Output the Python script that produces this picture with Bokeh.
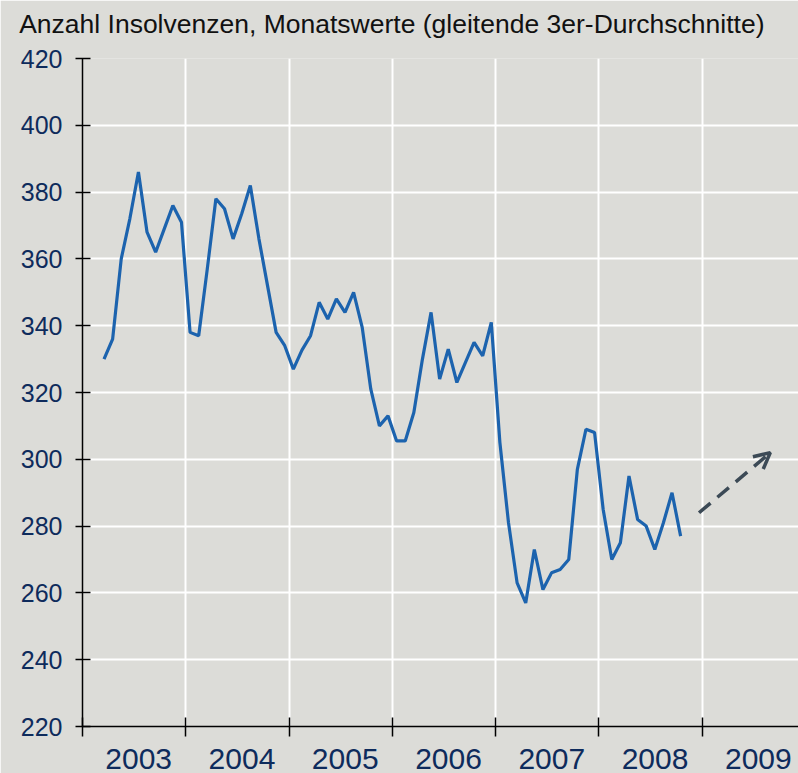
import pandas as pd
from bokeh.plotting import figure
from bokeh.models import FixedTicker, Arrow, OpenHead, Range1d, LinearAxis
from bokeh.embed import file_html
from bokeh.resources import INLINE

# ---------------- data ----------------
title_text = "Anzahl Insolvenzen, Monatswerte (gleitende 3er-Durchschnitte)"
months = pd.period_range("2003-03", "2008-10", freq="M")
insolvenzen = [330, 336, 360, 372, 386, 368, 362, 369, 376, 371,
               338, 337, 357, 378, 375, 366, 373.5, 382, 366, 352, 338, 334,
               327, 332.7, 337, 347, 342, 348, 344, 350, 339.5, 321, 310, 313,
               305.5, 305.5, 314, 330, 344, 324, 333, 323, 329, 335, 331, 341,
               305, 281, 263, 257, 273, 261, 266, 267, 270, 297, 309, 308,
               285, 270, 275, 295, 282, 280, 273, 281, 290, 277]
year_labels = ["2003", "2004", "2005", "2006", "2007", "2008", "2009"]
y_ticks = [220, 240, 260, 280, 300, 320, 340, 360, 380, 400, 420]
trend_x = [2008.97, 2009.66]
trend_y = [284, 302]

# ---------------- styles ----------------
BG = "#dcdcd8"
LINE = "#1c63ae"
NAVY = "#0e2b5c"
ARROW = "#3c4a56"
FONT = "Liberation Sans"
LABEL_SHIFT = 0.044      # year labels sit slightly right of the year centre
TITLE_POS = 2005.995     # centre of the title text along the x scale

x_vals = [m.year + (m.month - 0.5) / 12 for m in months]
years = [int(y) for y in year_labels]
boundaries = years + [years[-1] + 1]
label_pos = [y + 0.5 + LABEL_SHIFT for y in years]

p = figure(width=798, height=773, output_backend="svg", toolbar_location=None,
           x_range=Range1d(2003, 2009.933), y_range=Range1d(220, 420),
           min_border_left=82, min_border_right=0, min_border_top=58,
           min_border_bottom=47, background_fill_color=BG, border_fill_color=BG,
           outline_line_color=None)

# title drawn as the single label of an otherwise invisible top axis
tax = LinearAxis(ticker=FixedTicker(ticks=[TITLE_POS]),
                 major_label_overrides={TITLE_POS: title_text},
                 axis_line_color=None, major_tick_line_color=None,
                 minor_tick_line_color=None, major_tick_in=0, major_tick_out=0,
                 major_label_standoff=20,
                 major_label_text_font=FONT, major_label_text_font_size="26.5px",
                 major_label_text_color="#111111")
p.add_layout(tax, "above")

# y axis
p.yaxis.ticker = FixedTicker(ticks=y_ticks)
p.yaxis.major_tick_in = 8
p.yaxis.major_tick_out = 7
p.yaxis.minor_tick_line_color = None
p.yaxis.major_label_standoff = 13
p.yaxis.major_label_text_font = FONT
p.yaxis.major_label_text_font_size = "25px"
p.yaxis.major_label_text_color = NAVY
p.yaxis.axis_line_width = 1.5
p.yaxis.major_tick_line_width = 1.5

# x axis: labels at year centres, ticks at year boundaries (minor ticks)
bax = p.below[0]
bax.ticker = FixedTicker(ticks=label_pos, minor_ticks=boundaries)
bax.major_label_overrides = {m: t for m, t in zip(label_pos, year_labels)}
bax.major_tick_in = 0
bax.major_tick_out = 0
bax.minor_tick_in = 9
bax.minor_tick_out = 10
bax.minor_tick_line_width = 1.5
bax.minor_tick_line_color = "black"
bax.major_label_standoff = 12
bax.major_label_text_font = FONT
bax.major_label_text_font_size = "30px"
bax.major_label_text_color = NAVY
bax.axis_line_width = 1.5

# grid
p.xgrid.ticker = FixedTicker(ticks=boundaries)
p.xgrid.grid_line_color = "white"
p.xgrid.grid_line_width = 2
p.ygrid.grid_line_color = "white"
p.ygrid.grid_line_width = 2

# series
p.line(x_vals, insolvenzen, line_color=LINE, line_width=3.2)

# trend arrow
p.add_layout(Arrow(end=OpenHead(size=16, line_color=ARROW, line_width=3.5),
                   x_start=trend_x[0], y_start=trend_y[0],
                   x_end=trend_x[1], y_end=trend_y[1],
                   line_color=ARROW, line_width=3.5, line_dash="15 9"))

open("out.html", "w").write(file_html(p, INLINE))
